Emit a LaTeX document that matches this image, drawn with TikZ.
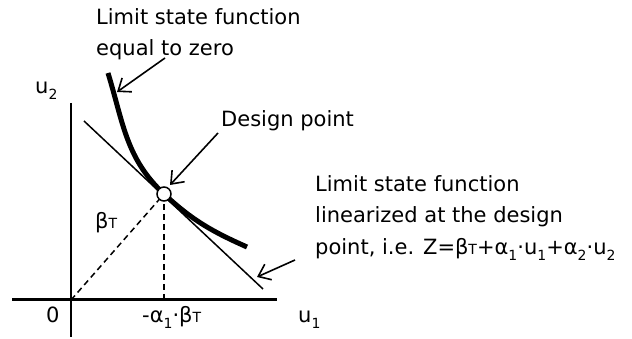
\documentclass[tikz,border=0pt]{standalone}
\usepackage{fontspec}
\setmainfont{DejaVu Sans}
\usetikzlibrary{arrows.meta,positioning,calc}
\newcommand{\sbs}[1]{\raisebox{-0.28em}{\fontsize{14}{14}\selectfont #1}}
\newcommand{\sT}{{\fontsize{14}{14}\selectfont T}}

\begin{document}
\begin{tikzpicture}[x=1pt,y=1pt,
   lbl/.style={inner sep=0pt,font=\fontsize{21}{31.5}\selectfont},
   axis/.style={line width=3pt},
   lsf/.style={line width=5pt},
   lin/.style={line width=1.5pt},
   guide/.style={line width=1.5pt,dash pattern=on 6pt off 4pt},
   pointer/.style={line width=1.6pt,-{Straight Barb[length=11pt,width=17pt]}},
   dp/.style={draw,line width=1.5pt,fill=white,circle,minimum size=14pt,inner sep=0pt}]
 \useasboundingbox (0,0) rectangle (632,339);
 % axes (explicit coordinates)
 \coordinate (o) at (71,39);
 \coordinate (xl) at (12,39);
 \coordinate (xr) at (277,39);
 \coordinate (yt) at (71,236);
 \coordinate (yb) at (71,2);
 \draw[axis] (xl) -- (xr);
 \draw[line width=2pt] (yt) -- (yb);
 % design point, tangent line and limit state curve
 \coordinate (d) at (164,145);
 \coordinate (la) at (84,218);
 \coordinate (lb) at (263,50);
 \coordinate (ca) at (108,266);
 \coordinate (cb) at (247,92);
 \draw[lin] (la) -- (lb);
 \draw[lsf] (ca) to[out=-73,in=137] (d) to[out=-43,in=156] (cb);
 \draw[guide] (o) -- (d);
 \draw[guide] (d) -- (d |- o);
 \node[dp] (dpt) at (d) {};
 % labels
 \node[lbl,anchor=north west,align=left] (zero) at (96,331)
   {Limit state function\\equal to zero};
 \node[lbl,anchor=base west] (dsg) at (221,212) {Design point};
 \node[lbl,anchor=north west,align=left] (linz) at (315,164)
   {Limit state function\\linearized at the design\\point, i.e.
    Z=β\sT+α\sbs{1}·u\sbs{1}+α\sbs{2}·u\sbs{2}};
 \node[lbl,anchor=base west] (u2) at (35,245) {u\sbs{2}};
 \node[lbl,anchor=base west] (u1) at (298,16) {u\sbs{1}};
 \node[lbl,anchor=base west] (org) at (46,16) {0};
 \node[lbl,anchor=base west] (proj) at (142,16) {-α\sbs{1}·β\sT};
 \node[lbl,anchor=base west] (beta) at (95,110) {β\sT};
 % pointers
 \coordinate (p1) at (165,281);
 \coordinate (t1) at (117,247);
 \coordinate (p2) at (218,206);
 \coordinate (t2) at (170,154);
 \coordinate (p3) at (295,79);
 \coordinate (t3) at (257,62);
 \draw[pointer] (p1) -- (t1);
 \draw[pointer] (p2) -- (t2);
 \draw[pointer] (p3) -- (t3);
\end{tikzpicture}
\end{document}
